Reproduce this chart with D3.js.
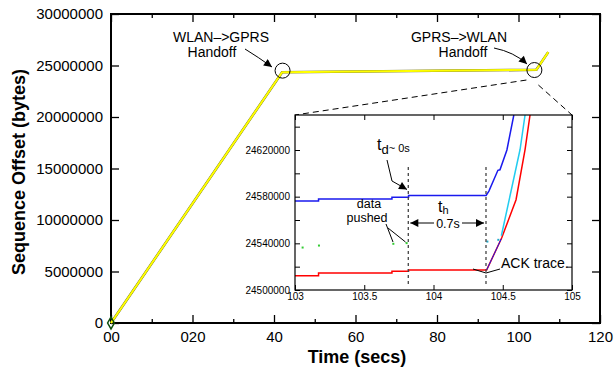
<!DOCTYPE html>
<html>
<head>
<meta charset="utf-8">
<script src="https://cdn.jsdelivr.net/npm/d3@7"></script>
<style>
  body { margin: 0; background: #fff; }
  svg { font-family: "Liberation Sans", Arial, Helvetica, sans-serif; }
</style>
</head>
<body>
<div id="chart"></div>
<script>
// main trace (seconds, bytes)
const mainTime = [0, 42, 104.38, 107.3];
const mainSeq = [0, 24350000, 24580000, 26300000];

const xTicks = [0, 20, 40, 60, 80, 100, 120];
const xTickLabels = ["00", "020", "40", "60", "80", "100", "120"];
const yTicks = [0, 5000000, 10000000, 15000000, 20000000, 25000000, 30000000];

// inset (zoom on GPRS->WLAN handoff)
const blueTime = [103, 103.17, 103.17, 103.7, 103.7, 103.82, 103.82, 104.38, 104.40, 104.465, 104.48, 104.53, 104.58];
const blueSeq = [24576200, 24576200, 24578000, 24578000, 24579500, 24579500, 24581000, 24581000, 24584800, 24602600, 24603000, 24620000, 24650000];
const retxTime = [104.384, 104.49];
const retxSeq = [24517200, 24544000];
const ackTime = [103, 103.17, 103.17, 103.7, 103.7, 103.82, 103.82, 104.384, 104.492, 104.596, 104.661, 104.697];
const ackSeq = [24512300, 24512300, 24514600, 24514600, 24516100, 24516100, 24517200, 24517200, 24544500, 24577400, 24620400, 24650000];
const cyanTime = [104.49, 104.625, 104.661];
const cyanSeq = [24546500, 24620400, 24650000];
const cyanDotTime = [104.389, 104.468];
const cyanDotSeq = [24541500, 24543000];
const pushedTime = [103.055, 103.173, 103.71, 103.806];
const pushedSeq = [24536400, 24538100, 24539600, 24540200];
const handoffTime = [103.818, 104.379];

const insetXTicks = [103, 103.5, 104, 104.5, 105];
const insetYTicks = [24500000, 24540000, 24580000, 24620000];

const W = 614, H = 371;
const svg = d3.select("#chart").append("svg").attr("width", W).attr("height", H);

const defs = svg.append("defs");
defs.append("marker").attr("id", "head")
  .attr("viewBox", "0 0 10 10").attr("refX", 10).attr("refY", 5)
  .attr("markerWidth", 12).attr("markerHeight", 8).attr("markerUnits", "userSpaceOnUse")
  .attr("orient", "auto-start-reverse")
  .append("path").attr("d", "M0,0 L10,5 L0,10 Z").attr("fill", "#000");

// main scales
const x = d3.scaleLinear().domain([0, 120]).range([111, 600]);
const y = d3.scaleLinear().domain([0, 30000000]).range([323, 14]);

const g = svg.append("g");

// bottom axis, major + minor ticks
g.append("g").attr("transform", "translate(0,323)")
  .call(d3.axisBottom(x).tickValues(xTicks).tickSize(-8).tickPadding(8)
    .tickFormat((d, i) => xTickLabels[i]));
g.append("g").attr("transform", "translate(0,323)")
  .call(d3.axisBottom(x).tickValues(d3.range(10, 120, 20)).tickSize(-4).tickFormat(""));
g.append("g").attr("transform", "translate(0,14)")
  .call(d3.axisTop(x).tickValues(xTicks).tickSize(-8).tickFormat(""));
g.append("g").attr("transform", "translate(0,14)")
  .call(d3.axisTop(x).tickValues(d3.range(10, 120, 20)).tickSize(-4).tickFormat(""));

g.append("g").attr("transform", "translate(111,0)")
  .call(d3.axisLeft(y).tickValues(yTicks).tickSize(-8).tickPadding(8).tickFormat(d3.format("d")));
g.append("g").attr("transform", "translate(600,0)")
  .call(d3.axisRight(y).tickValues(yTicks).tickSize(-8).tickFormat(""));

g.selectAll(".domain").remove();
g.selectAll(".tick line").attr("stroke", "#000").attr("stroke-width", 1.3);
g.selectAll(".tick text").attr("font-size", 15).attr("fill", "#000")
  .attr("font-family", "Liberation Sans, Arial, sans-serif");

g.append("rect").attr("x", 111).attr("y", 14).attr("width", 489).attr("height", 309)
  .attr("fill", "none").attr("stroke", "#000").attr("stroke-width", 2);

// main trace
const mainLine = d3.line().x((d, i) => x(mainTime[i])).y(d => y(d));
g.append("path").datum(mainSeq).attr("d", mainLine)
  .attr("fill", "none").attr("stroke", "#6b6b20").attr("stroke-width", 2.6);
g.append("path").datum(mainSeq).attr("d", mainLine)
  .attr("fill", "none").attr("stroke", "#ffff00").attr("stroke-width", 2);
g.append("path")
  .attr("d", d3.symbol(d3.symbolDiamond, 40)())
  .attr("transform", `translate(${x(0)},${y(0)})`)
  .attr("fill", "none").attr("stroke", "#0b4d0b").attr("stroke-width", 1.5);

// axis titles
svg.append("text").attr("x", 357).attr("y", 363).attr("text-anchor", "middle")
  .attr("font-size", 18).attr("font-weight", "bold").text("Time (secs)");
svg.append("text").attr("transform", "translate(25,172) rotate(-90)").attr("text-anchor", "middle")
  .attr("font-size", 18).attr("font-weight", "bold").text("Sequence Offset (bytes)");

// handoff circles and labels
const c1 = [x(42.1), y(24500000)], c2 = [x(103.9), y(24560000)];
[c1, c2].forEach(c => g.append("circle").attr("cx", c[0]).attr("cy", c[1]).attr("r", 7.5)
  .attr("fill", "none").attr("stroke", "#000").attr("stroke-width", 1));

const ann = svg.append("g").attr("font-size", 14).attr("fill", "#000").attr("text-anchor", "middle");
ann.append("text").attr("x", 221).attr("y", 42).text("WLAN–>GPRS");
ann.append("text").attr("x", 212).attr("y", 57).text("Handoff");
ann.append("text").attr("x", 459).attr("y", 42).text("GPRS–>WLAN");
ann.append("text").attr("x", 463).attr("y", 57).text("Handoff");

svg.append("path").attr("d", "M245,49 Q258,57 272,67")
  .attr("fill", "none").attr("stroke", "#000").attr("stroke-width", 1).attr("marker-end", "url(#head)");
svg.append("path").attr("d", "M494,48 Q514,52 527,64")
  .attr("fill", "none").attr("stroke", "#000").attr("stroke-width", 1).attr("marker-end", "url(#head)");

// inset
const ix = d3.scaleLinear().domain([103, 105]).range([295, 572]);
const iy = d3.scaleLinear().domain([24500000, 24650000]).range([290, 115]);

// zoom guide lines
svg.append("path").attr("d", `M${c2[0] - 8},${c2[1] + 10} L${ix(103)},${iy(24650000)}`)
  .attr("stroke", "#000").attr("stroke-dasharray", "6,4").attr("fill", "none");
svg.append("path").attr("d", `M${c2[0] + 4},${c2[1] + 15} L${ix(105)},${iy(24650000)}`)
  .attr("stroke", "#000").attr("stroke-dasharray", "6,4").attr("fill", "none");

const ig = svg.append("g");
ig.append("rect").attr("x", 295).attr("y", 115).attr("width", 277).attr("height", 175).attr("fill", "#fff");

ig.append("g").attr("transform", "translate(0,290)")
  .call(d3.axisBottom(ix).tickValues(insetXTicks).tickSize(-5).tickPadding(3).tickFormat(d3.format("")));
ig.append("g").attr("transform", "translate(0,115)")
  .call(d3.axisTop(ix).tickValues(insetXTicks).tickSize(-5).tickFormat(""));
ig.append("g").attr("transform", "translate(295,0)")
  .call(d3.axisLeft(iy).tickValues(d3.range(24500000, 24650001, 20000)).tickSize(-5).tickPadding(5)
    .tickFormat(d => insetYTicks.includes(d) ? d3.format("d")(d) : ""));
ig.append("g").attr("transform", "translate(572,0)")
  .call(d3.axisRight(iy).tickValues(d3.range(24500000, 24650001, 20000)).tickSize(-5).tickFormat(""));
ig.selectAll(".domain").remove();
ig.selectAll(".tick line").attr("stroke", "#000");
ig.selectAll(".tick text").attr("font-size", 10).attr("fill", "#000")
  .attr("font-family", "Liberation Sans, Arial, sans-serif");

defs.append("clipPath").attr("id", "clip").append("rect")
  .attr("x", 295).attr("y", 115).attr("width", 277).attr("height", 175);
const plot = ig.append("g").attr("clip-path", "url(#clip)");

const line = (tx) => d3.line().x((d, i) => ix(tx[i])).y(d => iy(d));
plot.append("path").datum(ackSeq).attr("d", line(ackTime))
  .attr("fill", "none").attr("stroke", "#ff0000").attr("stroke-width", 1.5);
plot.append("path").datum(cyanSeq).attr("d", line(cyanTime))
  .attr("fill", "none").attr("stroke", "#22ccf0").attr("stroke-width", 1.5);
plot.append("path").datum(blueSeq).attr("d", line(blueTime))
  .attr("fill", "none").attr("stroke", "#1a1aee").attr("stroke-width", 1.5);
plot.append("path").datum(retxSeq).attr("d", line(retxTime))
  .attr("fill", "none").attr("stroke", "#1a1aee").attr("stroke-width", 1);
plot.selectAll(".cdot").data(cyanDotSeq).enter().append("rect")
  .attr("x", (d, i) => ix(cyanDotTime[i]) - 1).attr("y", d => iy(d) - 1)
  .attr("width", 2).attr("height", 2).attr("fill", "#22aacc");
plot.selectAll(".gdot").data(pushedSeq).enter().append("rect")
  .attr("x", (d, i) => ix(pushedTime[i]) - 1).attr("y", d => iy(d) - 1)
  .attr("width", 2).attr("height", 2).attr("fill", "#33cc33");

// handoff markers
ig.selectAll(".vline").data(handoffTime).enter().append("line")
  .attr("x1", d => ix(d)).attr("x2", d => ix(d)).attr("y1", 167).attr("y2", 286)
  .attr("stroke", "#444").attr("stroke-width", 1.3).attr("stroke-dasharray", "3,3");

ig.append("rect").attr("x", 295).attr("y", 115).attr("width", 277).attr("height", 175)
  .attr("fill", "none").attr("stroke", "#000").attr("stroke-width", 1.2);

// inset annotations
const ia = svg.append("g").attr("fill", "#000");
const td = ia.append("text").attr("x", 377).attr("y", 150).attr("font-size", 16);
td.append("tspan").text("t");
td.append("tspan").attr("font-size", 13).attr("dy", 4).text("d");
td.append("tspan").attr("font-size", 11).attr("dy", -2).text("~ 0s");
ia.append("path").attr("d", "M387,160 L392,181 L407,189.5")
  .attr("fill", "none").attr("stroke", "#000").attr("stroke-width", 1).attr("marker-end", "url(#head)");

ia.append("text").attr("x", 369).attr("y", 208).attr("text-anchor", "middle").attr("font-size", 12.5).text("data");
ia.append("text").attr("x", 367).attr("y", 222).attr("text-anchor", "middle").attr("font-size", 12.5).text("pushed");
ia.append("path").attr("d", "M386,224 L393,242").attr("stroke", "#000").attr("fill", "none");
ia.append("path").attr("d", "M388,228 L405.5,242").attr("stroke", "#000").attr("fill", "none");

const th = ia.append("text").attr("x", 438).attr("y", 211.5).attr("font-size", 16);
th.append("tspan").text("t");
th.append("tspan").attr("font-size", 11).attr("dy", 2).text("h");
ia.append("line").attr("x1", 434).attr("x2", ix(handoffTime[0]) + 2).attr("y1", 223).attr("y2", 223)
  .attr("stroke", "#000").attr("marker-end", "url(#head)");
ia.append("line").attr("x1", 462).attr("x2", ix(handoffTime[1]) - 2).attr("y1", 223).attr("y2", 223)
  .attr("stroke", "#000").attr("marker-end", "url(#head)");
ia.append("text").attr("x", 448).attr("y", 228).attr("text-anchor", "middle").attr("font-size", 12.5).text("0.7s");

ia.append("text").attr("x", 501).attr("y", 268).attr("font-size", 14).text("ACK trace.");
ia.append("path").attr("d", "M473,269 L486,273 L500,269").attr("fill", "none").attr("stroke", "#000");
</script>
</body>
</html>
